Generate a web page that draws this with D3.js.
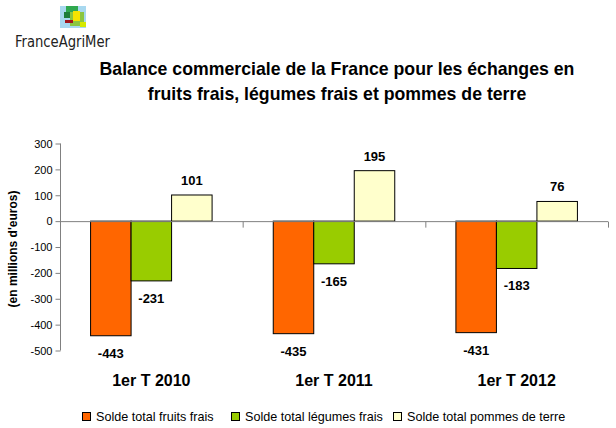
<!DOCTYPE html>
<html>
<head>
<meta charset="utf-8">
<script src="https://cdn.jsdelivr.net/npm/d3@7"></script>
<style>
  body { margin: 0; background: #fff; }
  svg { font-family: Arial, "Liberation Sans", sans-serif; }
</style>
</head>
<body>
<svg id="svg" width="616" height="428"></svg>
<script>
// data
var periods = ["1er T 2010", "1er T 2011", "1er T 2012"];
var seriesNames = ["Solde total fruits frais", "Solde total légumes frais", "Solde total pommes de terre"];
var fruits = [-443, -435, -431];
var legumes = [-231, -165, -183];
var pommes = [101, 195, 76];
var yTicks = [300, 200, 100, 0, -100, -200, -300, -400, -500];
var colors = ["#ff6600", "#99cc00", "#ffffcc"];

var svg = d3.select("#svg");

// logo
var logo = svg.append("g");
logo.append("rect").attr("x", 60).attr("y", 6).attr("width", 26).attr("height", 22).attr("fill", "#a8d8ef");
logo.append("rect").attr("x", 66).attr("y", 6).attr("width", 12).attr("height", 8).attr("fill", "#2fa84f");
logo.append("rect").attr("x", 64).attr("y", 12).attr("width", 10).attr("height", 6).attr("fill", "#1e7d3a");
logo.append("rect").attr("x", 70).attr("y", 12).attr("width", 14).attr("height", 14).attr("fill", "#8cc63f");
logo.append("rect").attr("x", 73).attr("y", 11).attr("width", 7).attr("height", 10).attr("fill", "#f5e400");
logo.append("rect").attr("x", 65).attr("y", 20).attr("width", 8).attr("height", 3).attr("fill", "#a0161b");
logo.append("rect").attr("x", 80).attr("y", 22).attr("width", 6).attr("height", 5).attr("fill", "#d6e900");
svg.append("text").attr("x", 15).attr("y", 47)
  .attr("font-family", "'DejaVu Sans Condensed', Arial, sans-serif")
  .attr("font-size", 16).attr("fill", "#222")
  .attr("textLength", 95).attr("lengthAdjust", "spacingAndGlyphs")
  .text("FranceAgriMer");

// title
var title = svg.append("text").attr("text-anchor", "middle")
  .attr("font-weight", "bold").attr("font-size", 17.7).attr("fill", "#000");
title.append("tspan").attr("x", 337).attr("y", 75).text("Balance commerciale de la France pour les échanges en");
title.append("tspan").attr("x", 337).attr("y", 100).text("fruits frais, légumes frais et pommes de terre");

// scales
var x0 = d3.scaleBand().domain(periods).range([60, 608]).paddingInner(0).paddingOuter(0);
var x1 = d3.scaleBand().domain(seriesNames).range([0, x0.bandwidth()]).paddingOuter(0.755).paddingInner(0);
var y = d3.scaleLinear().domain([-500, 300]).range([350.5, 143.5]);

var rows = periods.map(function(p, i) {
  return { period: p, values: [fruits[i], legumes[i], pommes[i]] };
});

// y axis
var yAxis = svg.append("g").attr("transform", "translate(60.5,0)")
  .call(d3.axisLeft(y).tickValues(yTicks).tickSize(5).tickPadding(3).tickFormat(d3.format("d")));
yAxis.select(".domain").attr("stroke", "#808080").attr("d", "M0," + y(300) + "V" + y(-500));
yAxis.selectAll(".tick line").attr("stroke", "#808080");
yAxis.selectAll(".tick text").attr("font-size", 11).attr("font-family", "Arial, 'Liberation Sans', sans-serif")
  .attr("fill", "#000").attr("dy", "0.35em").text(function(d) { return d; });

svg.append("text")
  .attr("transform", "translate(17," + (y(-100) + 2) + ") rotate(-90)")
  .attr("text-anchor", "middle").attr("font-size", 12).attr("font-weight", "bold")
  .text("(en millions d'euros)");

// bars
var groups = svg.selectAll("g.grp").data(rows).enter().append("g")
  .attr("class", "grp")
  .attr("transform", function(d) { return "translate(" + x0(d.period) + ",0)"; });

groups.selectAll("rect").data(function(d) { return d.values; }).enter().append("rect")
  .attr("x", function(d, i) { return x1(seriesNames[i]); })
  .attr("y", function(d) { return y(Math.max(0, d)); })
  .attr("width", x1.bandwidth())
  .attr("height", function(d) { return Math.abs(y(d) - y(0)); })
  .attr("fill", function(d, i) { return colors[i]; })
  .attr("stroke", "#000").attr("stroke-width", 1);

groups.selectAll("text.val").data(function(d) { return d.values; }).enter().append("text")
  .attr("class", "val")
  .attr("x", function(d, i) { return x1(seriesNames[i]) + x1.bandwidth() / 2; })
  .attr("y", function(d) { return d >= 0 ? y(d) - 10 : y(d) + 22; })
  .attr("text-anchor", "middle").attr("font-size", 13).attr("font-weight", "bold")
  .text(function(d) { return d; });

// zero axis line + category ticks
var zero = svg.append("g").attr("transform", "translate(0," + (y(0) + 0.5) + ")");
zero.append("line").attr("x1", 60).attr("x2", 608).attr("stroke", "#808080");
zero.selectAll("line.t").data(periods.concat(["end"])).enter().append("line")
  .attr("class", "t")
  .attr("x1", function(d, i) { return 60 + i * x0.bandwidth() + 0.5; })
  .attr("x2", function(d, i) { return 60 + i * x0.bandwidth() + 0.5; })
  .attr("y1", 0).attr("y2", 6).attr("stroke", "#808080");

// category labels
svg.selectAll("text.cat").data(periods).enter().append("text")
  .attr("class", "cat")
  .attr("x", function(d) { return x0(d) + x0.bandwidth() / 2; })
  .attr("y", 386).attr("text-anchor", "middle")
  .attr("font-size", 16).attr("font-weight", "bold")
  .text(function(d) { return d; });

// legend
var legendX = [82, 231, 393];
var legend = svg.selectAll("g.leg").data(seriesNames).enter().append("g")
  .attr("class", "leg")
  .attr("transform", function(d, i) { return "translate(" + legendX[i] + ",412)"; });
legend.append("rect").attr("x", 0.5).attr("y", 0.5).attr("width", 8).attr("height", 8)
  .attr("fill", function(d, i) { return colors[i]; }).attr("stroke", "#000");
legend.append("text").attr("x", 14).attr("y", 9).attr("font-size", 12.6)
  .text(function(d) { return d; });
</script>
</body>
</html>
